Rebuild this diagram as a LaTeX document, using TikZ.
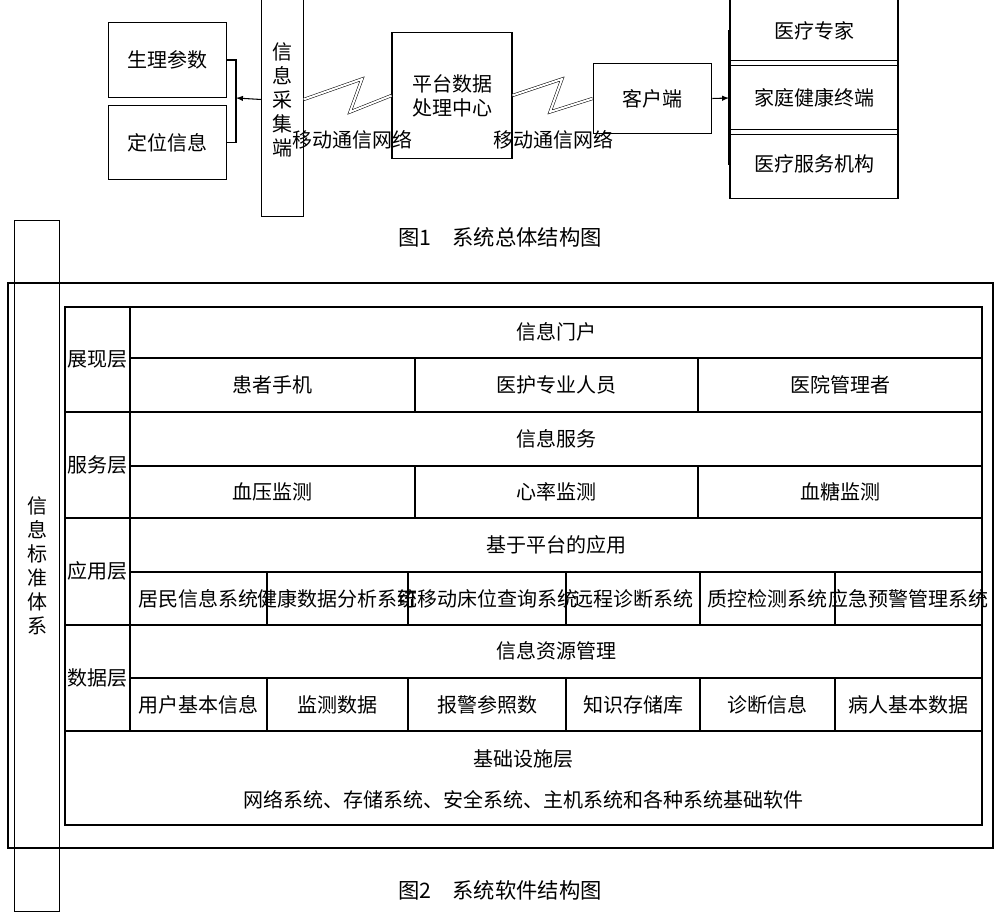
\documentclass[tikz,border=0pt]{standalone}
\usepackage{fontspec}
\setmainfont{Noto Sans CJK SC}
\usetikzlibrary{positioning,calc}
\tikzset{
  box/.style={draw, thick, inner sep=0pt},
  lbl/.style={font=\fontsize{15}{18}\selectfont},
  captext/.style={font=\fontsize{16}{19}\selectfont},
  wave/.style={double, double distance=1.5pt, thin}
}
\begin{document}
\begin{tikzpicture}[x=0.75pt, y=-0.75pt]
    \useasboundingbox (0,0) rectangle (1000,920);
    % Figure 1
    \node[box, lbl, minimum width=89, minimum height=56] (vital) at (167.5,60) {生理参数};
    \node[box, lbl, minimum width=89, minimum height=56] (locate) at (167.5,142.5) {定位信息};
    \node[box, lbl, minimum width=31, minimum height=175, align=center] (collect) at (282.5,99.5) {信\\息\\采\\集\\端};
    \node[box, lbl, minimum width=90, minimum height=95, align=center] (center) at (452,95.5) {平台数据\\处理中心};
    \node[box, lbl, minimum width=89, minimum height=53] (client) at (652.5,98.5) {客户端};
    \node[box, lbl, minimum width=126, minimum height=52] (expert) at (814,31) {医疗专家};
    \node[box, lbl, minimum width=126, minimum height=55] (home) at (814,97.5) {家庭健康终端};
    \node[box, lbl, minimum width=126, minimum height=52] (inst) at (814,164) {医疗服务机构};
    \coordinate (lb) at (236,98);
    \coordinate (rb) at (729,98);
    \draw[thick] (vital.east) -| (lb) |- (locate.east);
    \draw[thick, -latex] (collect.west) -- (lb);
    \draw[thick] (expert.west) -| (rb) |- (inst.west);
    \draw[thick] (rb) -- (home.west);
    \draw[thick, -latex] (client.east) -- (rb);
    \draw[wave] (collect.east) -- (362,79) -- (350,112) -- (center.west);
    \draw[wave] (center.east) -- (562,79) -- (550,112) -- (client.west);
    \node[lbl] (net1) at (352,140) {移动通信网络};
    \node[lbl] (net2) at (553,140) {移动通信网络};
    \node[captext] (cap1) at (500,237) {图1\quad 系统总体结构图};
    % Figure 2
    \draw[thick] (8,283) rectangle (993,848);
    \node[box, lbl, minimum width=34, minimum height=518, align=center] (std) at (37,566) {信\\息\\标\\准\\体\\系};
    \draw[thick] (65,307) rectangle (982,825);
    \foreach \y in {412,518,625,731} \draw[thick] (65,\y) -- (982,\y);
    \foreach \y in {358,466,572,678} \draw[thick] (130,\y) -- (982,\y);
    \draw[thick] (130,307) -- (130,731);
    \foreach \x in {415,698} \draw[thick] (\x,358) -- (\x,412) (\x,466) -- (\x,518);
    \foreach \x in {267,408,566,700,835} \draw[thick] (\x,572) -- (\x,625) (\x,678) -- (\x,731);
    % layer names
    \foreach \t/\y in {展现层/359,服务层/465,应用层/571,数据层/678}
        \node[lbl] at (97.5,\y) {\t};
    \foreach \t/\y in {信息门户/332,信息服务/439,基于平台的应用/545,信息资源管理/651}
        \node[lbl] at (556,\y) {\t};
    \foreach \t/\x in {患者手机/272.5,医护专业人员/556.5,医院管理者/840}
        \node[lbl] at (\x,385) {\t};
    \foreach \t/\x in {血压监测/272.5,心率监测/556.5,血糖监测/840}
        \node[lbl] at (\x,492) {\t};
    \foreach \t/\x in {居民信息系统/198.5,健康数据分析系统/337.5,可移动床位查询系统/487,远程诊断系统/633,质控检测系统/767.5,应急预警管理系统/908.5}
        \node[lbl] at (\x,599) {\t};
    \foreach \t/\x in {用户基本信息/198.5,监测数据/337.5,报警参照数/487,知识存储库/633,诊断信息/767.5,病人基本数据/908.5}
        \node[lbl] at (\x,705) {\t};
    \node[lbl] (infra) at (523,759) {基础设施层};
    \node[lbl] (infratxt) at (523,800) {网络系统、存储系统、安全系统、主机系统和各种系统基础软件};
    \node[captext] (cap2) at (500,890) {图2\quad 系统软件结构图};
\end{tikzpicture}
\end{document}
